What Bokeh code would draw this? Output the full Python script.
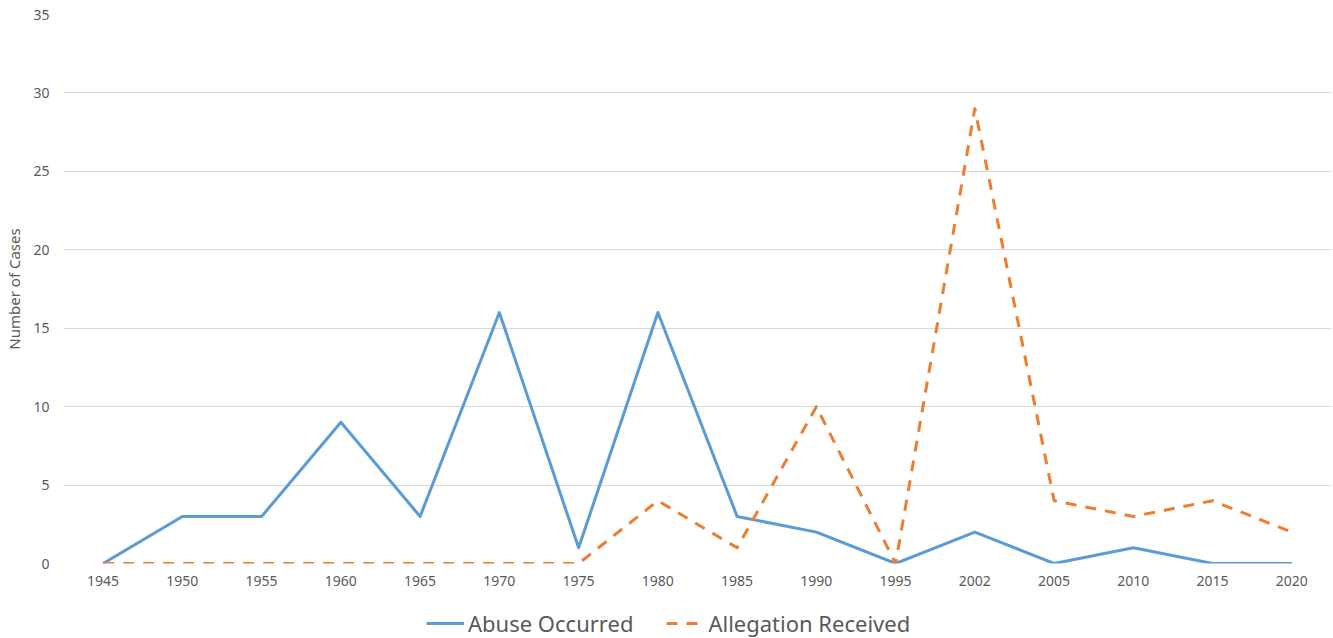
from bokeh.plotting import figure
from bokeh.layouts import column
from bokeh.models import FactorRange, Range1d, Legend, LegendItem, SingleIntervalTicker
from bokeh.embed import file_html
from bokeh.resources import INLINE

years = ["1945", "1950", "1955", "1960", "1965", "1970", "1975", "1980",
         "1985", "1990", "1995", "2002", "2005", "2010", "2015", "2020"]
abuse_occurred = [0, 3, 3, 9, 3, 16, 1, 16, 3, 2, 0, 2, 0, 1, 0, 0]
allegation_received = [0, 0, 0, 0, 0, 0, 0, 4, 1, 10, 0, 29, 4, 3, 4, 2]
series_names = ["Abuse Occurred", "Allegation Received"]

FONT = "Noto Sans"
TXT = "#595959"
BLUE = "#5B9BD5"
ORANGE = "#ED7D31"
DASH = "11 9"

W = 1333
p = figure(x_range=FactorRange(factors=years), y_range=Range1d(0, 35),
           width=W, height=598, output_backend="svg", toolbar_location=None,
           min_border_left=63, min_border_right=2, min_border_top=14, min_border_bottom=35)
p.outline_line_color = None

p.line(years, abuse_occurred, line_color=BLUE, line_width=3, line_join="round")
p.line(years, allegation_received, line_color=ORANGE, line_width=3,
       line_dash=DASH, line_join="round")

p.yaxis.ticker = SingleIntervalTicker(interval=5)
p.ygrid.grid_line_color = "#D9D9D9"
p.xgrid.grid_line_color = None
for ax in (p.xaxis, p.yaxis):
    ax.axis_line_color = None
    ax.major_tick_line_color = None
    ax.minor_tick_line_color = None
    ax.major_tick_out = 0
    ax.major_tick_in = 0
    ax.minor_tick_out = 0
    ax.minor_tick_in = 0
    ax.major_label_text_font = FONT
    ax.major_label_text_font_size = "14px"
    ax.major_label_text_color = TXT
p.xaxis.major_label_standoff = 12
p.yaxis.major_label_standoff = 14
p.yaxis.axis_label = "Number of Cases"
p.yaxis.axis_label_text_font = FONT
p.yaxis.axis_label_text_font_size = "15px"
p.yaxis.axis_label_text_font_style = "normal"
p.yaxis.axis_label_text_color = TXT
p.yaxis.axis_label_standoff = 6

# legend strip below the chart (sample lines lie outside the visible range)
lg = figure(width=W, height=40, output_backend="svg", toolbar_location=None,
            x_axis_type=None, y_axis_type=None, x_range=Range1d(0, 1), y_range=Range1d(0, 1),
            min_border_left=0, min_border_right=0, min_border_top=0, min_border_bottom=0)
lg.outline_line_color = None
lg.xgrid.grid_line_color = None
lg.ygrid.grid_line_color = None
d1 = lg.line(x=[-2, -1], y=[-2, -1], line_color=BLUE, line_width=3)
d2 = lg.line(x=[-2, -1], y=[-2, -1], line_color=ORANGE, line_width=3, line_dash=DASH)

legend = Legend(items=[LegendItem(label=series_names[0], renderers=[d1]),
                       LegendItem(label=series_names[1], renderers=[d2])],
                orientation="horizontal", location=(363, 0),
                label_text_font=FONT, label_text_font_size="22px", label_text_color=TXT,
                border_line_color=None, background_fill_alpha=0,
                glyph_width=38, label_standoff=4, spacing=33, margin=0, padding=2)
lg.add_layout(legend, "center")

open("out.html", "w").write(file_html(column(p, lg, spacing=0), INLINE))
